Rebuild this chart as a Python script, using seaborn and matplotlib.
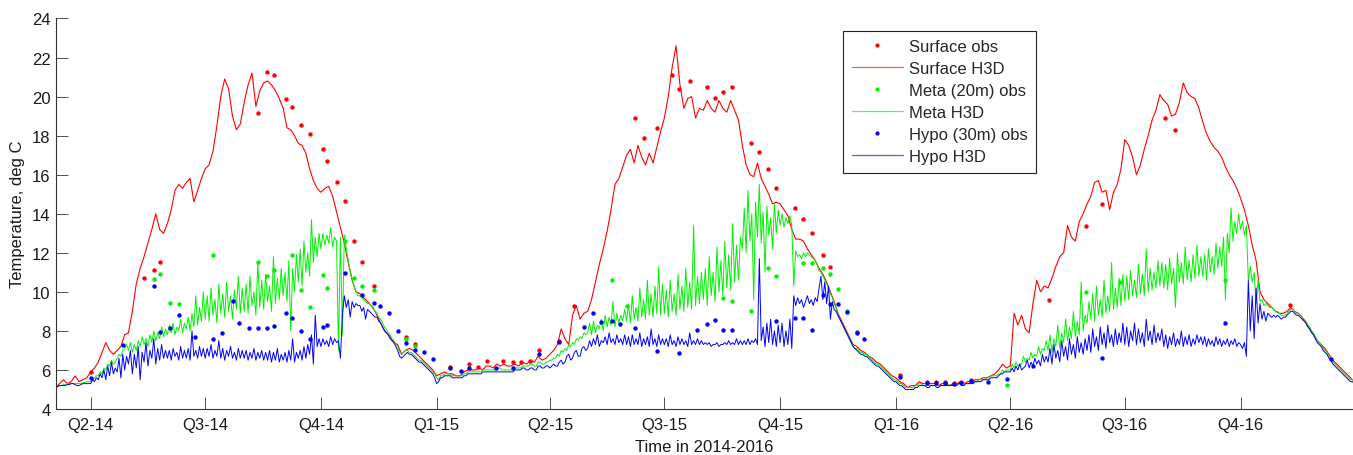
import numpy as np
import pandas as pd
import matplotlib
matplotlib.use("Agg")
import matplotlib.pyplot as plt
from matplotlib.lines import Line2D
import seaborn as sns

# H3D surface output, 10 values per month, Mar 2014 .. Dec 2016 (one row per month)
surface_h3d = [
    5.1, 5.1, 5.3, 5.5, 5.3, 5.4, 5.7, 5.4, 5.5, 5.6,
    5.9, 6.1, 6.4, 6.9, 7.4, 7.0, 6.8, 7.0, 7.2, 7.8,
    7.9, 9.0, 10.4, 11.2, 11.8, 12.5, 13.2, 14.0, 13.2, 13.0,
    13.5, 14.2, 15.2, 15.5, 15.3, 15.6, 15.8, 14.6, 15.2, 15.8,
    16.3, 16.5, 17.2, 18.5, 20.0, 20.9, 20.4, 19.0, 18.3, 18.6,
    19.7, 20.6, 21.2, 19.5, 20.3, 20.7, 20.8, 20.6, 20.3, 19.9,
    19.4, 18.4, 18.3, 18.0, 17.6, 17.5, 17.1, 16.3, 15.7, 15.3,
    15.1, 15.3, 15.4, 14.9, 14.1, 13.3, 12.5, 11.5, 10.6, 10.0,
    9.9, 9.7, 9.5, 9.3, 9.0, 8.6, 8.2, 7.9, 7.7, 7.4,
    7.3, 6.8, 7.0, 7.1, 7.0, 6.8, 6.6, 6.4, 6.2, 6.0,
    5.7, 5.8, 5.9, 5.8, 5.8, 5.7, 5.7, 5.9, 6.0, 6.0,
    6.0, 6.1, 6.0, 6.2, 6.2, 6.1, 6.3, 6.2, 6.3, 6.2,
    6.2, 6.3, 6.2, 6.4, 6.3, 6.5, 6.4, 6.7, 6.5, 6.6,
    6.8, 7.0, 7.3, 8.1, 7.6, 7.3, 8.8, 9.3, 8.6, 8.9,
    9.0, 9.6, 10.5, 11.4, 12.2, 13.1, 14.2, 15.5, 15.8, 16.4,
    17.0, 17.3, 16.6, 17.5, 16.9, 16.5, 17.1, 16.6, 17.4, 18.2,
    18.9, 20.0, 21.5, 22.6, 20.6, 19.4, 19.9, 20.0, 18.9, 19.4,
    19.3, 19.8, 19.4, 19.2, 19.8, 19.4, 19.2, 19.8, 19.3, 18.8,
    17.5, 16.5, 16.0, 15.9, 16.6, 15.8, 15.4, 15.0, 14.5, 14.6,
    14.5, 14.2, 13.9, 13.2, 12.7, 12.7, 12.6, 12.2, 11.9, 11.6,
    11.2, 10.9, 10.5, 10.0, 9.5, 8.9, 8.5, 8.1, 7.7, 7.3,
    7.2, 7.0, 6.9, 6.7, 6.6, 6.4, 6.3, 6.1, 5.9, 5.7,
    5.6, 5.4, 5.3, 5.1, 5.2, 5.2, 5.4, 5.3, 5.3, 5.3,
    5.3, 5.2, 5.3, 5.3, 5.2, 5.3, 5.3, 5.4, 5.3, 5.4,
    5.4, 5.5, 5.5, 5.6, 5.6, 5.7, 5.8, 6.0, 6.3, 6.1,
    6.2, 8.9, 8.3, 8.8, 8.1, 7.9, 9.4, 10.6, 10.0, 10.3,
    10.2, 10.7, 11.3, 11.8, 12.0, 13.4, 12.8, 12.6, 13.6, 14.0,
    14.5, 14.9, 15.6, 15.7, 15.1, 15.2, 14.2, 15.1, 15.5, 16.3,
    17.8, 17.5, 16.9, 16.0, 16.5, 17.3, 18.0, 18.8, 19.3, 20.1,
    19.8, 19.6, 19.0, 19.1, 19.7, 20.7, 20.2, 20.0, 19.9, 19.4,
    18.7, 18.1, 17.7, 17.4, 17.2, 16.9, 16.4, 16.0, 15.7, 15.3,
    14.8, 14.2, 13.4, 12.4, 11.6, 10.0, 9.6, 9.4, 9.2, 9.0,
    8.9, 8.9, 9.0, 9.2, 9.0, 8.9, 8.7, 8.4, 8.1, 7.8,
    7.5, 7.3, 7.1, 6.8, 6.5, 6.3, 6.1, 5.9, 5.7, 5.5,
]

# metalimnion (20 m) and hypolimnion (30 m) output, 20 values per month (two lines per month)
meta_h3d = [
    5.1, 5.1, 5.1, 5.15, 5.2, 5.2, 5.25, 5.25, 5.3, 5.3,
    5.3, 5.3, 5.3, 5.3, 5.3, 5.3, 5.35, 5.35, 5.4, 5.4,
    5.4, 5.5, 5.6, 5.7, 5.7, 5.9, 5.8, 6.1, 6.0, 6.3,
    6.2, 6.5, 6.3, 6.4, 6.6, 6.8, 6.7, 7.0, 7.1, 7.3,
    7.0, 7.4, 6.9, 7.3, 7.0, 7.5, 7.2, 7.7, 7.3, 7.6,
    7.2, 7.8, 7.4, 8.0, 7.5, 7.9, 7.6, 8.2, 7.7, 8.1,
    7.8, 8.3, 7.9, 8.4, 7.8, 8.2, 8.0, 8.6, 7.9, 8.4,
    8.1, 8.7, 8.0, 8.9, 8.2, 9.8, 8.3, 9.2, 8.5, 10.0,
    8.6, 9.8, 8.5, 10.2, 8.8, 9.6, 8.4, 10.4, 8.9, 9.9,
    8.7, 10.5, 9.0, 9.8, 8.6, 10.1, 9.1, 10.8, 8.9, 10.2,
    9.0, 10.4, 8.9, 10.8, 9.3, 10.0, 8.8, 11.5, 9.2, 10.6,
    9.1, 10.9, 9.5, 10.3, 9.0, 11.8, 9.4, 10.7, 9.6, 11.2,
    9.8, 11.0, 9.5, 11.6, 8.0, 11.2, 10.0, 11.9, 10.5, 12.2,
    10.3, 12.6, 11.0, 12.0, 10.8, 13.7, 11.5, 12.8, 11.8, 13.0,
    12.2, 13.0, 12.4, 12.9, 12.5, 13.3, 12.3, 12.8, 12.6, 7.0,
    12.8, 7.8, 12.9, 12.2, 11.6, 11.1, 10.6, 10.3, 10.0, 9.8,
    9.8, 9.7, 9.6, 9.5, 9.4, 9.4, 9.3, 9.2, 9.0, 8.9,
    8.7, 8.6, 8.4, 8.2, 8.1, 7.9, 7.8, 7.6, 7.5, 7.3,
    7.2, 6.9, 6.8, 6.9, 7.0, 7.0, 6.9, 6.9, 6.8, 6.7,
    6.6, 6.5, 6.5, 6.4, 6.3, 6.2, 6.1, 6.0, 5.9, 5.8,
    5.6, 5.5, 5.7, 5.7, 5.8, 5.8, 5.8, 5.8, 5.7, 5.7,
    5.7, 5.7, 5.7, 5.7, 5.8, 5.8, 5.9, 5.9, 5.9, 5.9,
    5.9, 5.9, 5.9, 5.9, 6.0, 6.0, 6.0, 6.0, 6.0, 6.0,
    6.0, 6.0, 6.0, 6.1, 6.1, 6.0, 6.0, 6.0, 6.0, 6.0,
    6.0, 6.0, 6.1, 6.1, 6.1, 6.1, 6.2, 6.2, 6.2, 6.2,
    6.3, 6.3, 6.2, 6.2, 6.4, 6.4, 6.3, 6.3, 6.4, 6.4,
    6.5, 6.5, 6.6, 6.6, 6.8, 6.7, 7.0, 6.9, 7.1, 7.0,
    7.3, 7.2, 7.4, 7.3, 7.6, 7.5, 7.7, 7.6, 7.9, 7.8,
    7.9, 8.4, 7.8, 8.5, 7.9, 8.3, 8.1, 8.6, 8.0, 8.8,
    8.2, 8.7, 8.3, 9.5, 8.2, 8.9, 8.4, 8.8, 8.5, 9.1,
    8.5, 9.4, 8.4, 9.8, 8.6, 9.2, 8.5, 10.2, 8.7, 9.6,
    8.6, 10.6, 8.8, 9.9, 8.7, 10.3, 8.9, 11.3, 8.8, 10.4,
    8.9, 10.1, 8.7, 10.6, 9.0, 9.9, 8.8, 10.9, 9.1, 10.3,
    9.0, 11.2, 9.2, 10.5, 9.1, 13.4, 9.3, 10.8, 9.4, 11.0,
    9.6, 11.2, 9.3, 11.8, 9.8, 11.0, 9.5, 12.3, 10.0, 11.6,
    9.8, 12.6, 10.2, 11.9, 10.1, 13.5, 10.5, 12.4, 10.6, 12.8,
    12.2, 14.3, 12.0, 15.2, 12.6, 14.0, 9.6, 14.6, 12.8, 15.5,
    12.5, 14.1, 11.0, 14.4, 12.9, 13.8, 12.2, 14.5, 13.0, 14.2,
    13.4, 14.0, 13.3, 13.8, 13.5, 13.9, 13.4, 10.3, 12.1, 11.8,
    11.9, 11.7, 12.0, 11.8, 12.0, 11.9, 11.8, 11.7, 11.6, 11.4,
    11.1, 11.0, 10.8, 10.6, 10.4, 10.2, 9.9, 9.7, 9.4, 9.2,
    8.8, 8.6, 8.4, 8.2, 8.0, 7.8, 7.6, 7.4, 7.2, 7.1,
    7.1, 7.0, 6.9, 6.9, 6.8, 6.8, 6.7, 6.6, 6.5, 6.4,
    6.3, 6.3, 6.2, 6.1, 6.0, 5.9, 5.8, 5.7, 5.6, 5.5,
    5.5, 5.4, 5.3, 5.3, 5.2, 5.1, 5.1, 5.1, 5.1, 5.1,
    5.2, 5.2, 5.3, 5.3, 5.2, 5.2, 5.2, 5.2, 5.2, 5.2,
    5.2, 5.2, 5.2, 5.2, 5.2, 5.2, 5.3, 5.3, 5.2, 5.2,
    5.2, 5.2, 5.3, 5.3, 5.3, 5.3, 5.3, 5.3, 5.3, 5.3,
    5.4, 5.4, 5.4, 5.4, 5.5, 5.5, 5.5, 5.5, 5.6, 5.6,
    5.7, 5.7, 5.7, 5.7, 5.8, 5.8, 6.0, 5.9, 6.0, 6.0,
    6.0, 6.3, 6.1, 6.4, 6.2, 6.3, 6.3, 6.7, 6.4, 6.6,
    6.5, 6.9, 6.6, 6.8, 6.7, 7.2, 6.8, 7.1, 7.0, 7.5,
    7.0, 7.8, 6.9, 7.6, 7.2, 8.3, 7.1, 7.9, 7.4, 8.6,
    7.5, 8.2, 7.6, 9.0, 7.7, 8.5, 7.8, 10.5, 8.0, 8.8,
    8.4, 9.5, 8.6, 9.9, 8.5, 10.3, 8.8, 9.6, 8.7, 10.6,
    8.9, 9.8, 9.0, 11.5, 9.1, 10.2, 9.2, 10.7, 9.3, 10.9,
    9.5, 10.8, 9.6, 11.1, 9.8, 10.6, 9.7, 11.4, 9.9, 10.9,
    9.8, 12.2, 10.0, 11.2, 10.1, 11.0, 10.2, 11.6, 10.3, 11.5,
    10.2, 11.4, 10.1, 11.7, 10.4, 11.2, 9.2, 12.0, 10.5, 11.5,
    10.4, 12.3, 10.6, 11.6, 10.5, 11.9, 10.7, 12.4, 10.8, 11.8,
    10.8, 11.9, 10.6, 12.2, 11.0, 11.8, 10.9, 12.5, 11.2, 12.3,
    11.3, 12.8, 9.6, 13.0, 12.0, 14.3, 12.6, 13.6, 13.0, 14.0,
    13.2, 13.6, 12.9, 13.4, 10.6, 11.3, 10.5, 11.0, 9.4, 10.6,
    9.5, 9.6, 9.3, 9.4, 9.3, 9.2, 9.2, 9.1, 9.0, 9.0,
    8.9, 8.8, 8.8, 8.8, 8.9, 9.0, 9.1, 9.1, 9.0, 8.9,
    8.9, 8.8, 8.7, 8.6, 8.5, 8.3, 8.2, 8.0, 7.9, 7.7,
    7.5, 7.4, 7.3, 7.1, 7.0, 6.9, 6.7, 6.6, 6.4, 6.3,
    6.2, 6.1, 6.0, 5.9, 5.8, 5.7, 5.6, 5.5, 5.5, 5.4,
]
hypo_h3d = [
    5.1, 5.1, 5.1, 5.15, 5.2, 5.2, 5.2, 5.2, 5.25, 5.25,
    5.3, 5.3, 5.25, 5.2, 5.2, 5.25, 5.3, 5.3, 5.3, 5.3,
    5.3, 5.5, 5.4, 5.6, 5.5, 5.8, 5.6, 6.0, 5.5, 6.2,
    5.7, 6.4, 5.8, 6.1, 5.9, 6.6, 5.6, 6.8, 6.0, 6.7,
    6.3, 7.0, 5.8, 6.8, 6.1, 7.2, 5.5, 6.9, 6.4, 7.4,
    6.2, 7.0, 6.6, 7.6, 6.3, 7.1, 6.5, 7.3, 6.6, 7.0,
    6.6, 7.0, 6.5, 7.1, 6.7, 6.9, 6.5, 7.2, 6.6, 7.0,
    6.6, 7.1, 6.5, 8.0, 6.7, 7.0, 6.6, 7.2, 6.7, 7.1,
    6.6, 7.1, 6.7, 7.3, 6.6, 7.0, 6.7, 7.5, 6.6, 7.1,
    6.5, 7.0, 6.7, 7.2, 6.6, 6.9, 6.5, 7.1, 6.6, 7.0,
    6.6, 7.0, 6.5, 6.9, 6.6, 7.1, 6.5, 6.9, 6.6, 7.0,
    6.5, 6.9, 6.5, 7.0, 6.4, 6.9, 6.5, 7.1, 6.4, 6.8,
    6.5, 6.9, 6.4, 7.0, 6.5, 7.6, 6.4, 6.9, 6.6, 7.0,
    6.5, 7.2, 6.6, 7.3, 6.8, 7.8, 6.3, 8.8, 7.2, 7.6,
    7.2, 7.6, 7.3, 7.5, 7.2, 7.7, 7.3, 7.6, 7.4, 7.5,
    6.6, 8.8, 9.8, 9.2, 9.6, 8.7, 9.5, 9.2, 9.4, 9.3,
    9.3, 9.0, 9.2, 8.6, 9.1, 9.0, 8.9, 8.8, 8.7, 8.7,
    8.5, 8.4, 8.2, 8.0, 7.9, 7.8, 7.6, 7.5, 7.4, 7.2,
    7.0, 6.7, 6.6, 6.7, 6.8, 6.9, 6.8, 6.8, 6.7, 6.6,
    6.5, 6.4, 6.4, 6.3, 6.2, 6.1, 6.0, 5.9, 5.8, 5.6,
    5.3, 5.4, 5.6, 5.6, 5.7, 5.7, 5.7, 5.7, 5.6, 5.6,
    5.6, 5.6, 5.6, 5.6, 5.7, 5.7, 5.8, 5.8, 5.8, 5.8,
    5.8, 5.8, 5.8, 5.8, 5.9, 5.9, 5.9, 5.9, 5.9, 5.9,
    5.9, 5.9, 5.9, 5.9, 5.9, 5.9, 5.9, 5.9, 5.9, 5.9,
    5.9, 5.9, 6.0, 6.0, 6.0, 6.0, 6.1, 6.1, 6.0, 6.0,
    6.1, 6.1, 6.0, 6.0, 6.2, 6.2, 6.1, 6.1, 6.2, 6.2,
    6.1, 6.2, 6.3, 6.2, 6.2, 6.4, 6.5, 6.3, 6.4, 6.7,
    6.8, 6.5, 6.6, 6.9, 7.0, 6.7, 6.7, 7.1, 7.2, 7.0,
    7.1, 7.5, 7.2, 7.6, 7.3, 7.8, 7.2, 7.5, 7.4, 7.7,
    7.3, 7.9, 7.4, 7.6, 7.3, 7.8, 7.4, 7.6, 7.3, 7.8,
    7.3, 7.7, 7.2, 7.8, 7.3, 7.6, 7.3, 7.9, 7.2, 7.6,
    7.3, 7.7, 7.2, 8.1, 7.3, 7.6, 7.2, 7.8, 7.3, 7.6,
    7.3, 7.6, 7.2, 7.8, 7.3, 7.5, 7.2, 7.7, 7.3, 7.6,
    7.3, 7.5, 7.2, 7.9, 7.3, 7.5, 7.3, 7.6, 7.3, 7.5,
    7.3, 7.4, 7.3, 7.4, 7.2, 7.3, 7.3, 7.4, 7.2, 7.3,
    7.3, 7.4, 7.3, 7.5, 7.3, 7.4, 7.3, 7.6, 7.3, 7.5,
    7.3, 7.5, 7.3, 7.6, 7.3, 7.5, 7.4, 7.6, 7.3, 11.7,
    7.5, 8.2, 7.2, 8.4, 7.4, 8.6, 7.3, 8.0, 7.2, 8.3,
    7.4, 8.4, 7.2, 8.0, 7.3, 8.6, 7.1, 9.8, 9.3, 9.7,
    9.4, 9.6, 9.2, 9.5, 9.8, 9.4, 9.6, 9.3, 9.7, 9.5,
    10.2, 10.8, 9.6, 10.5, 9.4, 10.3, 8.6, 9.5, 9.1, 9.0,
    8.8, 8.6, 8.4, 8.2, 8.0, 7.8, 7.6, 7.4, 7.2, 7.1,
    7.0, 6.9, 6.8, 6.8, 6.7, 6.7, 6.6, 6.5, 6.4, 6.3,
    6.2, 6.2, 6.1, 6.0, 5.9, 5.8, 5.7, 5.6, 5.5, 5.4,
    5.4, 5.3, 5.2, 5.2, 5.1, 5.0, 5.0, 5.0, 5.0, 5.0,
    5.1, 5.1, 5.2, 5.2, 5.2, 5.2, 5.1, 5.1, 5.2, 5.2,
    5.2, 5.1, 5.1, 5.2, 5.2, 5.2, 5.2, 5.2, 5.2, 5.2,
    5.2, 5.2, 5.2, 5.3, 5.3, 5.2, 5.2, 5.3, 5.3, 5.3,
    5.3, 5.3, 5.4, 5.4, 5.4, 5.4, 5.5, 5.5, 5.5, 5.5,
    5.6, 5.6, 5.6, 5.6, 5.7, 5.8, 5.8, 5.9, 5.9, 5.9,
    5.9, 6.1, 5.9, 6.2, 6.0, 6.3, 6.0, 6.1, 6.2, 6.5,
    6.1, 6.4, 6.2, 6.6, 6.3, 6.5, 6.2, 6.8, 6.4, 6.7,
    6.4, 7.1, 6.3, 7.3, 6.6, 7.0, 6.4, 7.5, 6.7, 7.2,
    6.5, 7.6, 6.8, 7.3, 6.6, 7.7, 6.9, 7.4, 6.8, 7.6,
    7.0, 7.8, 6.9, 8.1, 7.2, 7.7, 7.0, 8.2, 7.3, 7.9,
    7.1, 8.3, 7.4, 7.8, 7.2, 8.1, 7.3, 7.9, 7.4, 8.4,
    7.3, 8.2, 7.2, 8.0, 7.5, 8.4, 7.3, 8.1, 7.4, 7.9,
    7.2, 8.6, 7.5, 8.0, 7.3, 8.3, 7.4, 7.9, 7.5, 8.1,
    7.2, 7.8, 7.1, 7.7, 7.3, 7.9, 7.2, 7.6, 7.3, 8.0,
    7.2, 7.7, 7.3, 7.8, 7.2, 7.6, 7.3, 7.8, 7.4, 7.7,
    7.3, 7.7, 7.2, 7.6, 7.3, 7.5, 7.2, 7.7, 7.3, 7.6,
    7.2, 7.5, 7.3, 7.6, 7.2, 7.5, 7.3, 7.6, 7.2, 7.4,
    7.3, 7.1, 7.4, 6.7, 10.6, 8.0, 9.8, 7.6, 10.2, 8.4,
    9.4, 8.6, 9.0, 8.5, 8.9, 8.8, 8.7, 8.8, 8.7, 8.8,
    8.7, 8.6, 8.7, 8.7, 8.8, 8.9, 9.0, 9.0, 8.9, 8.8,
    8.8, 8.7, 8.6, 8.5, 8.4, 8.2, 8.1, 7.9, 7.8, 7.6,
    7.4, 7.3, 7.2, 7.0, 6.9, 6.8, 6.6, 6.5, 6.3, 6.2,
    6.1, 6.0, 5.9, 5.8, 5.7, 5.6, 5.5, 5.4, 5.4, 5.3,
]

# field observations (None = not sampled at that depth)
obs_dates = [
    "2014-04-01", "2014-04-27", "2014-05-13", "2014-05-21", "2014-05-26", "2014-06-03",
    "2014-06-10", "2014-06-23", "2014-07-07", "2014-07-14", "2014-07-23", "2014-07-28",
    "2014-08-05", "2014-08-12", "2014-08-19", "2014-08-25", "2014-09-03", "2014-09-08",
    "2014-09-15", "2014-09-22", "2014-10-03", "2014-10-06", "2014-10-14", "2014-10-20",
    "2014-10-27", "2014-11-03", "2014-11-12", "2014-11-17", "2014-11-24", "2014-12-01",
    "2014-12-08", "2014-12-15", "2014-12-22", "2014-12-29",
    "2015-01-12", "2015-01-20", "2015-01-27", "2015-02-03", "2015-02-10", "2015-02-17",
    "2015-02-23", "2015-03-03", "2015-03-09", "2015-03-16", "2015-03-23", "2015-04-08",
    "2015-04-20", "2015-04-28", "2015-05-05", "2015-05-12", "2015-05-20", "2015-05-27",
    "2015-06-01", "2015-06-08", "2015-06-15", "2015-06-25", "2015-07-07", "2015-07-13",
    "2015-07-21", "2015-07-27", "2015-08-04", "2015-08-10", "2015-08-17", "2015-08-24",
    "2015-09-08", "2015-09-14", "2015-09-21", "2015-09-28", "2015-10-13", "2015-10-19",
    "2015-10-26", "2015-11-04", "2015-11-10", "2015-11-16", "2015-11-23", "2015-12-01",
    "2015-12-07",
    "2016-01-04", "2016-01-26", "2016-02-02", "2016-02-09", "2016-02-16", "2016-02-22",
    "2016-03-01", "2016-03-14", "2016-03-29", "2016-04-19", "2016-05-02", "2016-05-31",
    "2016-06-13", "2016-06-27", "2016-08-02", "2016-08-10", "2016-09-19", "2016-11-09",
    "2016-12-12",
]
surface_obs = [
    5.9, None, 10.7, 11.1, 11.55, None,
    None, None, None, None, None, None,
    None, 19.15, 21.25, 21.1, 19.9, 19.45,
    18.55, 18.1, 17.3, 16.7, 15.65, 14.65,
    12.6, 11.55, 10.3, None, None, None,
    7.7, 7.35, None, None,
    6.15, None, 6.3, 6.15, 6.45, None,
    6.45, 6.4, 6.4, 6.45, 7.0, 7.5,
    9.3, None, None, None, None, None,
    None, 18.9, 17.9, 18.4, 21.1, 20.4,
    20.8, None, 20.5, 19.95, 20.25, 20.5,
    17.6, 17.15, 16.3, 15.3, 14.3, 13.75,
    13.0, 11.9, 11.25, None, None, 7.95,
    None,
    5.75, 5.4, 5.4, 5.4, 5.35, 5.4,
    5.5, None, None, None, 9.6, 13.35,
    14.5, None, 18.9, 18.3, None, 9.35,
    None,
]
meta_obs = [
    None, None, None, 10.65, 10.9, 9.45,
    9.4, None, 11.9, None, None, None,
    None, 11.55, 10.8, 11.1, None, 11.9,
    10.1, 9.2, 10.85, 10.2, None, 12.6,
    10.7, 10.3, 10.1, None, None, None,
    7.6, 7.25, None, None,
    None, None, None, None, None, None,
    None, None, None, None, None, None,
    None, None, None, None, 10.6, None,
    9.3, None, None, None, None, None,
    None, None, None, None, 9.7, 9.55,
    9.0, None, 11.2, 10.8, None, 11.5,
    11.5, 11.2, 10.9, 10.15, 9.0, None,
    None,
    None, None, None, None, None, None,
    None, None, 5.25, None, None, 10.0,
    None, 10.5, None, None, 10.6, None,
    None,
]
hypo_obs = [
    5.6, 7.3, None, 10.3, 7.95, 8.15,
    8.8, 7.7, 7.6, 7.9, 9.55, 8.4,
    8.15, 8.15, 8.15, 8.25, 8.9, 8.65,
    8.0, 7.6, 8.2, 8.3, None, 10.95,
    None, 9.85, 9.45, 9.3, 8.9, 8.0,
    7.4, 7.0, 6.9, 6.55,
    6.1, 5.95, 6.1, None, None, 6.1,
    None, 6.1, None, None, 6.8, 7.45,
    None, 8.2, 8.9, 8.45, 8.5, 8.35,
    None, 8.15, None, 6.95, None, 6.85,
    None, 8.05, 8.35, 8.55, 8.05, 8.05,
    None, None, None, 8.5, 8.65, 8.65,
    8.05, 9.85, 9.4, 9.4, 8.95, 7.9,
    7.6,
    5.65, 5.35, 5.35, 5.35, 5.3, 5.35,
    5.45, 5.4, 5.55, 6.2, None, None,
    6.6, None, None, None, 8.4, None,
    6.55,
]

quarter_ticks = ["2014-04-01", "2014-07-01", "2014-10-01", "2015-01-01", "2015-04-01", "2015-07-01",
                 "2015-10-01", "2016-01-01", "2016-04-01", "2016-07-01", "2016-10-01"]
quarter_labels = ["Q2-14", "Q3-14", "Q4-14", "Q1-15", "Q2-15", "Q3-15",
                  "Q4-15", "Q1-16", "Q2-16", "Q3-16", "Q4-16"]


def month_times(n):
    # n evenly spaced time stamps inside each month, Mar 2014 .. Dec 2016
    out = []
    for m in pd.date_range("2014-03-01", "2016-12-01", freq="MS"):
        step = (m + pd.offsets.MonthBegin(1) - m) / n
        out += [m + k * step for k in range(n)]
    return out


surf_df = pd.DataFrame({"time": month_times(10), "temp": surface_h3d})
deep_df = pd.DataFrame({"time": month_times(20), "meta": meta_h3d, "hypo": hypo_h3d})
obs = pd.DataFrame({"time": pd.to_datetime(obs_dates),
                    "surface": np.array(surface_obs, dtype=float),
                    "meta": np.array(meta_obs, dtype=float),
                    "hypo": np.array(hypo_obs, dtype=float)})

sns.set_style("ticks")
plt.rcParams["font.family"] = ["Liberation Sans", "DejaVu Sans"]
plt.rcParams["font.size"] = 12

fig = plt.figure(figsize=(13.53, 4.56), dpi=100)
ax = fig.add_axes([0.0414, 0.1009, 0.9586, 0.8564])

red, green, blue = "#ff0000", "#00f000", "#0000ff"

sns.lineplot(data=surf_df, x="time", y="temp", color=red, lw=0.8, estimator=None, ax=ax)
sns.lineplot(data=deep_df, x="time", y="meta", color=green, lw=0.7, estimator=None, ax=ax)
sns.lineplot(data=deep_df, x="time", y="hypo", color=blue, lw=0.7, estimator=None, ax=ax)

for key, col in [("surface", red), ("meta", green), ("hypo", blue)]:
    sns.scatterplot(data=obs.dropna(subset=[key]), x="time", y=key, color=col,
                    s=10, linewidth=0, ax=ax, zorder=5)

ax.set_xlim(pd.Timestamp("2014-03-04 10:00"), pd.Timestamp("2016-12-29 10:00"))
ax.set_ylim(4, 24)
ax.set_yticks(range(4, 25, 2))
ax.set_xticks(pd.to_datetime(quarter_ticks))
ax.set_xticklabels(quarter_labels)
ax.tick_params(direction="in", length=8.6, width=0.6, color="#333333",
               labelsize=12, labelcolor="#1a1a1a")
ax.tick_params(axis="x", pad=6)
ax.tick_params(axis="y", pad=4)
sns.despine(ax=ax)
for side in ["left", "bottom"]:
    ax.spines[side].set_color("#333333")
    ax.spines[side].set_linewidth(0.8)

ax.set_xlabel("Time in 2014-2016", fontsize=12, color="#1a1a1a", labelpad=5)
ax.set_ylabel("Temperature, deg C", fontsize=12, color="#1a1a1a", labelpad=5)

# legend proxies in the original order
legend_items = [
    ("Surface obs", red, "obs"), ("Surface H3D", red, "line"),
    ("Meta (20m) obs", green, "obs"), ("Meta H3D", green, "line"),
    ("Hypo (30m) obs", blue, "obs"), ("Hypo H3D", blue, "line"),
]
handles = []
for name, col, kind in legend_items:
    if kind == "obs":
        handles.append(Line2D([], [], ls="none", marker="o", ms=3, mew=0, color=col))
    else:
        handles.append(Line2D([], [], lw=0.9, color=col, alpha=0.65))
leg = ax.legend(handles, [n for n, _, _ in legend_items], loc="upper left",
                bbox_to_anchor=(0.607, 0.968), borderaxespad=0, fontsize=12,
                frameon=True, fancybox=False, framealpha=1, edgecolor="#222222",
                handlelength=3.1, handletextpad=0.35, labelspacing=0.42,
                borderpad=0.5, numpoints=1)
leg.get_frame().set_linewidth(0.8)

fig.savefig("out.png", dpi=100)
